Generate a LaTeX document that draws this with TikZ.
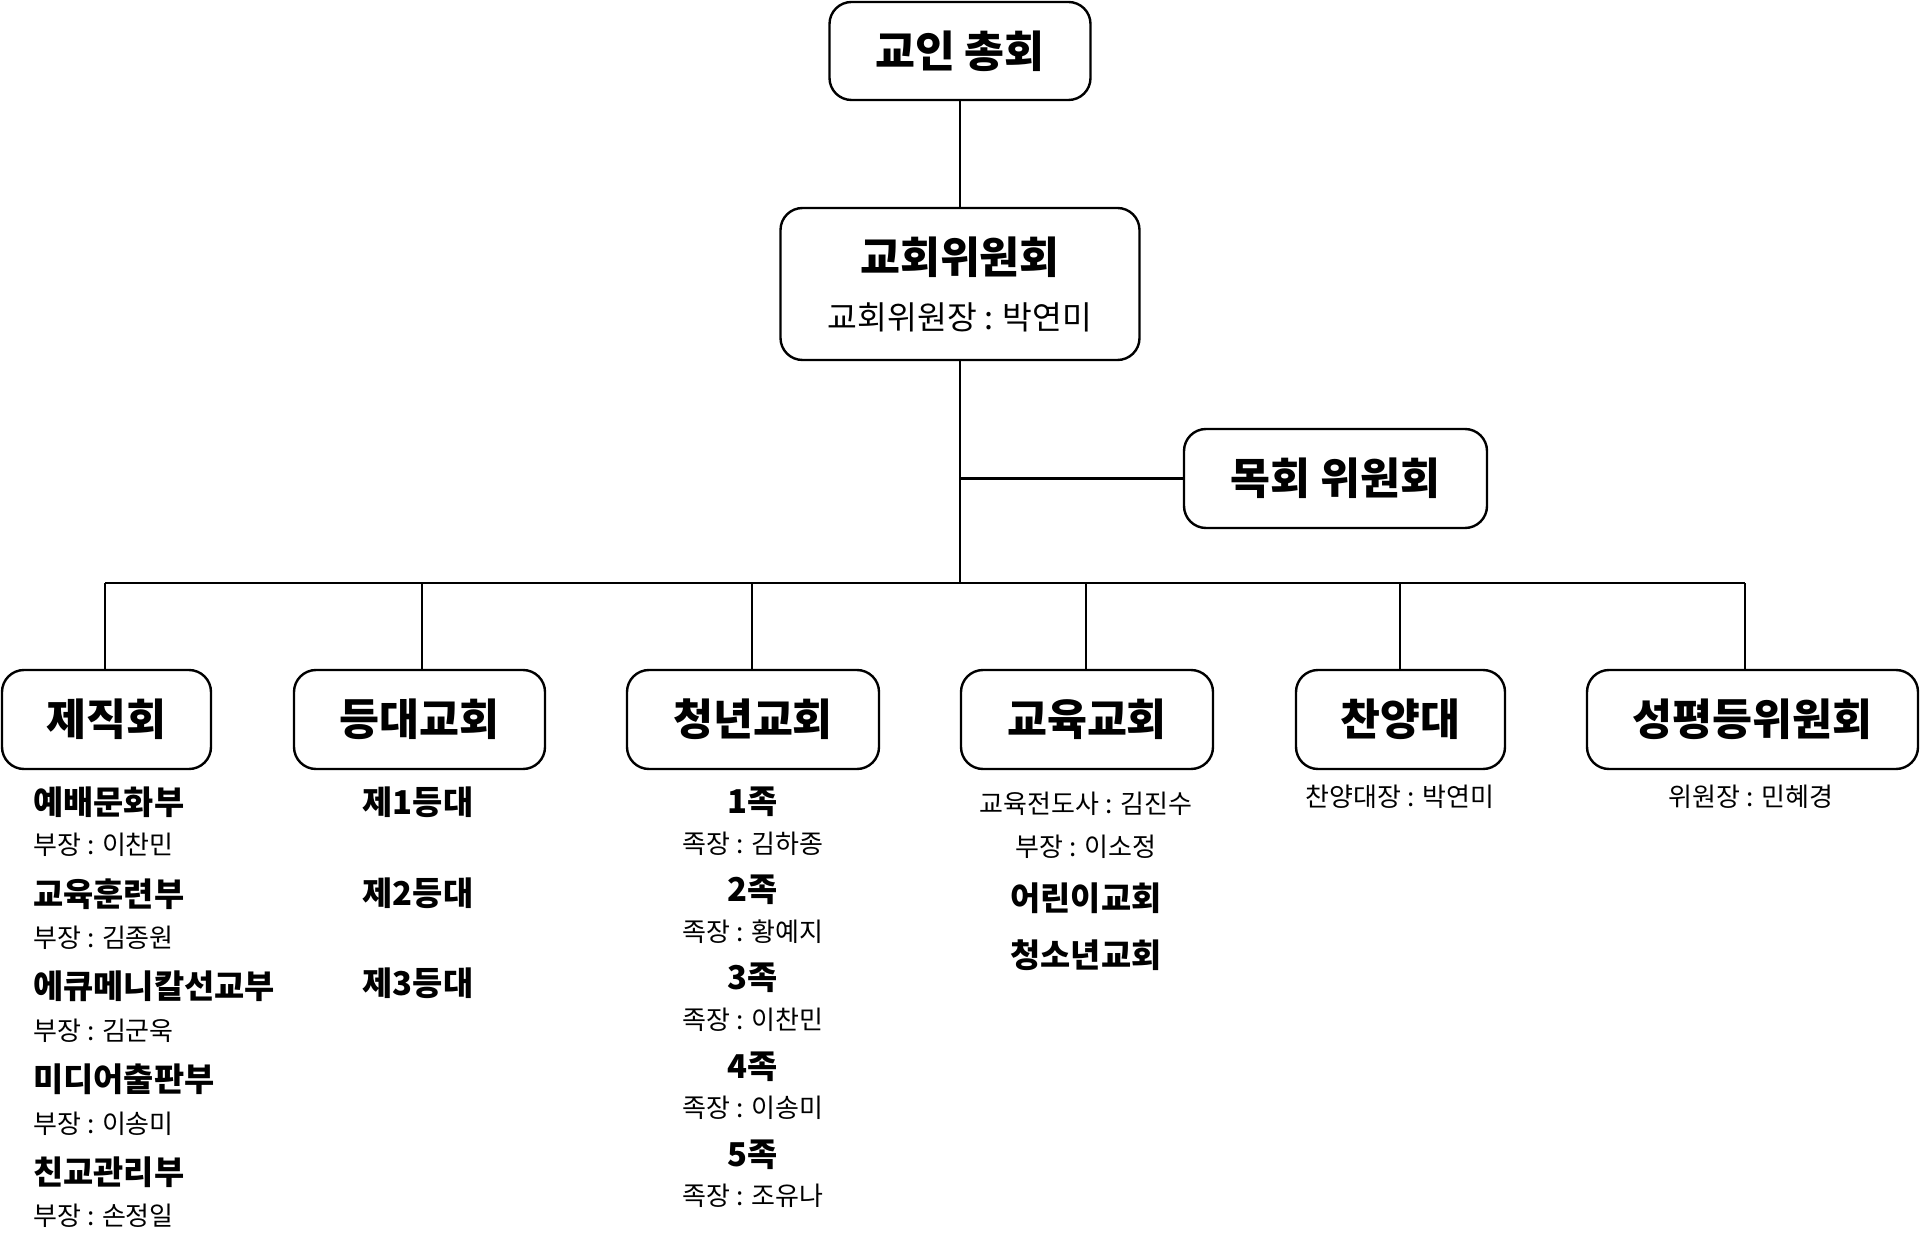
\documentclass[tikz,border=0pt]{standalone}
\usepackage{fontspec}
\setmainfont{Noto Sans CJK KR}
\begin{document}
\begin{tikzpicture}[x=0.5pt,y=-0.5pt,
  box/.style={draw=black, line width=1.2pt, rounded corners=11pt, fill=white, inner sep=0pt, align=center},
  ttl/.style={font=\fontsize{21.7}{26}\selectfont\bfseries},
  itm/.style={font=\fontsize{16.4}{19}\selectfont\bfseries, inner sep=0pt},
  sml/.style={font=\fontsize{13}{15}\selectfont, inner sep=0pt},
  mid/.style={font=\fontsize{16.2}{19}\selectfont, inner sep=0pt},
  ln/.style={line width=1.1pt, black}]
\useasboundingbox (0,0) rectangle (1920,1234);
\fill[white] (0,0) rectangle (1920,1234);

% top boxes
\node[box, ttl, minimum width=130.5pt, minimum height=49pt] (top) at (960,51) {교인 총회};
\node[box, minimum width=179.5pt, minimum height=76pt] (cw) at (960,284) {};
\node[ttl, inner sep=0pt] (cwT) at (960,257) {교회위원회};
\node[mid] (cwS) at (960,317) {교회위원장 : 박연미};
\node[box, ttl, minimum width=151.5pt, minimum height=49.5pt] (mw) at (1335.5,478.5) {목회 위원회};

% bottom boxes
\node[box, ttl, minimum width=104.5pt, minimum height=49.5pt] (s1) at (106.5,719.5) {제직회};
\node[box, ttl, minimum width=125.5pt, minimum height=49.5pt] (s2) at (419.5,719.5) {등대교회};
\node[box, ttl, minimum width=126pt, minimum height=49.5pt] (s3) at (753,719.5) {청년교회};
\node[box, ttl, minimum width=126pt, minimum height=49.5pt] (s4) at (1087,719.5) {교육교회};
\node[box, ttl, minimum width=104.5pt, minimum height=49.5pt] (s5) at (1400.5,719.5) {찬양대};
\node[box, ttl, minimum width=165.5pt, minimum height=49.5pt] (s6) at (1752.5,719.5) {성평등위원회};

% connectors
\coordinate (j) at (960,583);
\coordinate (b1) at (105,583);
\coordinate (b2) at (422,583);
\coordinate (b3) at (752,583);
\coordinate (b4) at (1086,583);
\coordinate (b5) at (1400,583);
\coordinate (b6) at (1745,583);
\draw[ln] (top.south) -- (cw.north);
\draw[ln] (cw.south) -- (j);
\draw[ln] (cw.south |- mw.west) -- (mw.west);
\draw[ln] (b1) -- (b6);
\foreach \i in {1,...,6} {\draw[ln] (b\i) -- (b\i |- s\i.north);}

% 제직회 list
\node[itm, anchor=west] (a1) at (33,802) {예배문화부};
\node[sml, anchor=west] (a2) at (33,845) {부장 : 이찬민};
\node[itm, anchor=west] (a3) at (33,894) {교육훈련부};
\node[sml, anchor=west] (a4) at (33,938) {부장 : 김종원};
\node[itm, anchor=west] (a5) at (33,986) {에큐메니칼선교부};
\node[sml, anchor=west] (a6) at (33,1031) {부장 : 김군욱};
\node[itm, anchor=west] (a7) at (33,1079) {미디어출판부};
\node[sml, anchor=west] (a8) at (33,1124) {부장 : 이송미};
\node[itm, anchor=west] (a9) at (33,1172) {친교관리부};
\node[sml, anchor=west] (a10) at (33,1216) {부장 : 손정일};

% 등대교회 list
\node[itm] (d1) at (418,802) {제1등대};
\node[itm] (d2) at (418,893) {제2등대};
\node[itm] (d3) at (418,983) {제3등대};

% 청년교회 list
\node[itm] (c1) at (753,802) {1족};
\node[sml] (c2) at (753,844) {족장 : 김하종};
\node[itm] (c3) at (753,890) {2족};
\node[sml] (c4) at (753,932) {족장 : 황예지};
\node[itm] (c5) at (753,978) {3족};
\node[sml] (c6) at (753,1020) {족장 : 이찬민};
\node[itm] (c7) at (753,1067) {4족};
\node[sml] (c8) at (753,1108) {족장 : 이송미};
\node[itm] (c9) at (753,1155) {5족};
\node[sml] (c10) at (753,1196) {족장 : 조유나};

% 교육교회 list
\node[sml] (e1) at (1086,804) {교육전도사 : 김진수};
\node[sml] (e2) at (1086,847) {부장 : 이소정};
\node[itm] (e3) at (1086,898) {어린이교회};
\node[itm] (e4) at (1086,955) {청소년교회};

% 찬양대 / 성평등위원회
\node[sml] (f1) at (1400,797) {찬양대장 : 박연미};
\node[sml] (g1) at (1751,797) {위원장 : 민혜경};
\end{tikzpicture}
\end{document}
